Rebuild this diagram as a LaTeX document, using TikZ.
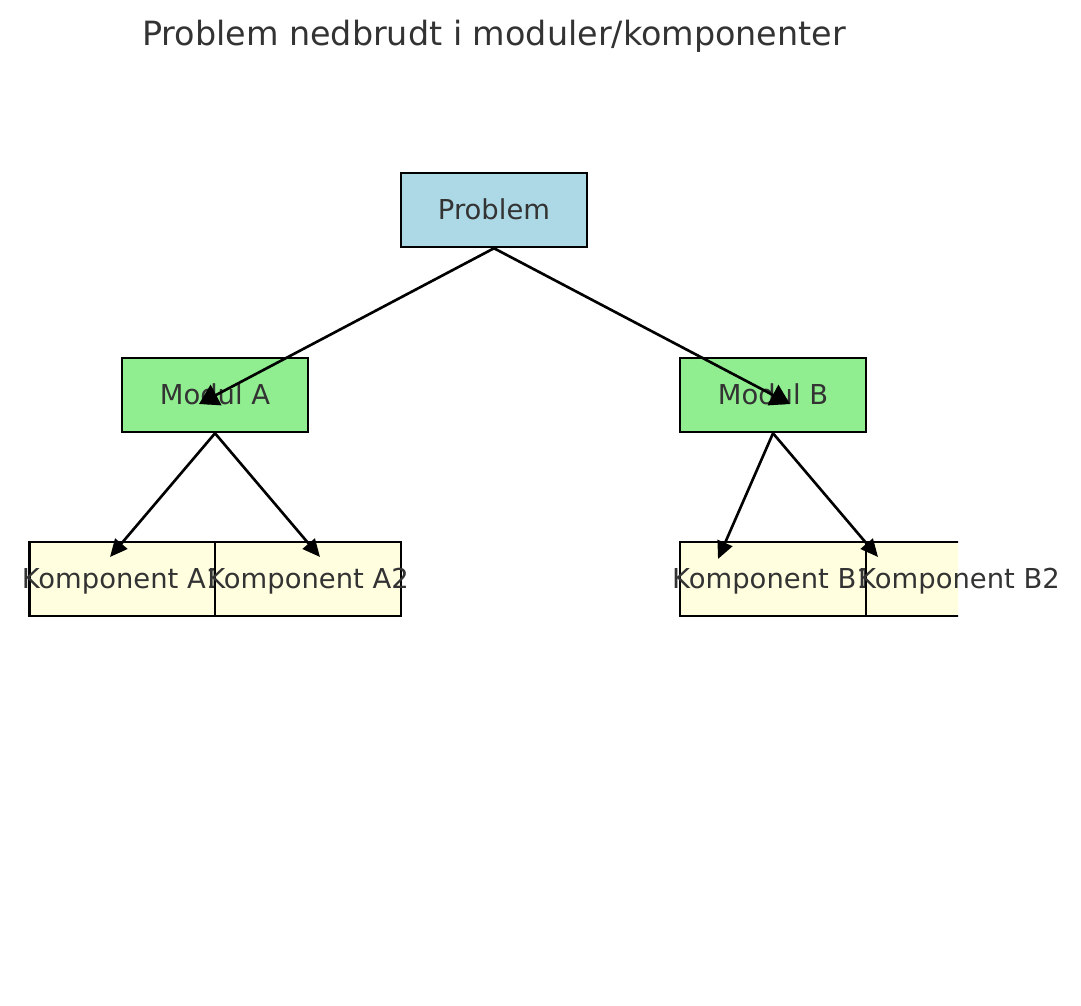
\documentclass[tikz,border=0pt]{standalone}
\usepackage{fontspec}
\setmainfont{DejaVu Sans}
\usetikzlibrary{positioning, calc, arrows.meta}

\definecolor{boxblue}{HTML}{ADD8E6}
\definecolor{boxgreen}{HTML}{90EE90}
\definecolor{boxyellow}{HTML}{FFFFE0}
\definecolor{labelgray}{HTML}{333333}

\begin{document}
\begin{tikzpicture}[
    x=0.02cm, y=-0.02cm,
    every node/.style={font=\fontsize{15.6}{18}\selectfont, text=labelgray},
    blockbox/.style={
        rectangle, draw=black, line width=1.45pt,
        minimum width=3.72cm, minimum height=1.48cm,
        inner sep=0pt, text height=1.3em, text depth=0.21em
    },
    link/.style={black, line width=1.5pt, -{Triangle[length=10pt, width=9pt]}}
]

\useasboundingbox (0,0) rectangle (1081,1006);

%% ── Title ──────────────────────────────────────────────────────────
\node[font=\fontsize{19}{22}\selectfont, anchor=base]
    (title) at (494,46) {Problem nedbrudt i moduler/komponenter};

%% ── Level 0: the problem ──────────────────────────────────────────
\node[blockbox, fill=boxblue] (problem) at (494,210) {Problem};

%% ── Level 1: modules ──────────────────────────────────────────────
\node[blockbox, fill=boxgreen] (modA) at (215,395) {Modul A};
\node[blockbox, fill=boxgreen] (modB) at (773,395) {Modul B};

%% ── Level 2: components (labels wider than the boxes) ─────────────
\def\rowK{579}

\node[blockbox, fill=boxyellow]
    (kompA1) at (122.5,\rowK) {\makebox[0pt]{Komponent A1}};
\node[blockbox, fill=boxyellow]
    (kompA2) at (308,\rowK) {\makebox[0pt]{Komponent A2}};
\node[blockbox, fill=boxyellow]
    (kompB1) at (773,\rowK) {\makebox[0pt]{Komponent B1}};

%% B2 runs past the edge of the plot area
\begin{scope}
    \clip (0,0) rectangle (958,1006);
    \node[blockbox, fill=boxyellow] (kompB2) at (959,\rowK) {};
\end{scope}
\node[blockbox, draw=none] (kompB2txt) at (kompB2.center)
    {\makebox[0pt]{Komponent B2}};

%% ── Arrow end points ──────────────────────────────────────────────
\coordinate (tipA)  at ($(modA.center)+(-16,9)$);
\coordinate (tipB)  at ($(modB.center)+(17,9)$);
\coordinate (tipA1) at ($(kompA1.center)+(-12.5,-22)$);
\coordinate (tipA2) at ($(kompA2.center)+(12,-22)$);
\coordinate (tipB1) at ($(kompB1.center)+(-55,-20)$);
\coordinate (tipB2) at ($(kompB2.center)+(-81,-22)$);

%% ── Arrows ────────────────────────────────────────────────────────
\draw[link, -{Triangle[length=11pt, width=13pt]}] (problem.south) -- (tipA);
\draw[link, -{Triangle[length=11pt, width=13pt]}] (problem.south) -- (tipB);
\draw[link] (modA.south) -- (tipA1);
\draw[link] (modA.south) -- (tipA2);
\draw[link] (modB.south) -- (tipB1);
\draw[link] (modB.south) -- (tipB2);

\end{tikzpicture}
\end{document}
